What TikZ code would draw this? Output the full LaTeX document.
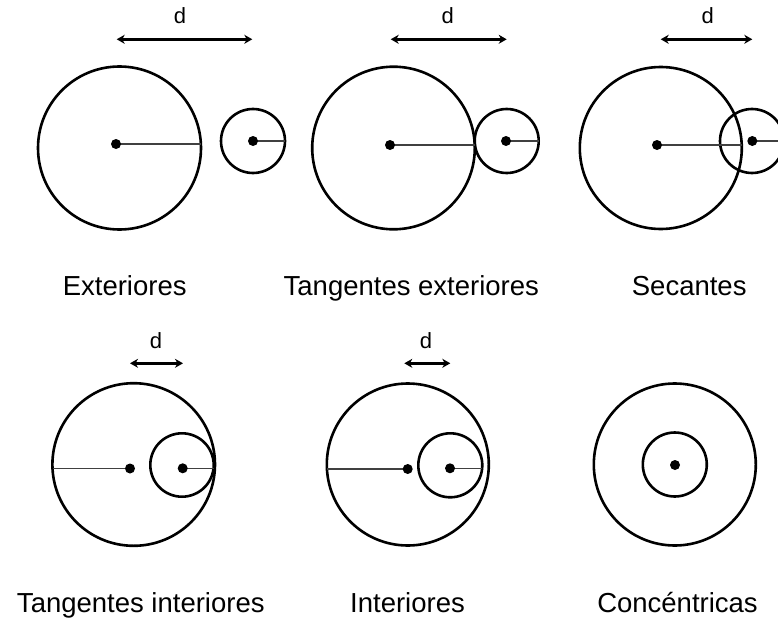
\documentclass[tikz,border=0pt]{standalone}
\usepackage{fontspec}
\setmainfont{Liberation Sans}
\usetikzlibrary{arrows.meta}
\begin{document}
\begin{tikzpicture}[x=1pt,y=-1pt,
  circ/.style={line width=2.6pt},
  rad/.style={line width=1.3pt,black!75},
  dotc/.style={fill=black},
  darrow/.style={line width=2.6pt,{Stealth[length=8pt,width=9pt,inset=2.5pt]}-{Stealth[length=8pt,width=9pt,inset=2.5pt]}},
  lbl/.style={anchor=base,inner sep=0pt,font=\fontsize{27.5}{30}\selectfont},
  dl/.style={anchor=base,inner sep=0pt,font=\fontsize{22}{26}\selectfont}]
\useasboundingbox (0,0) rectangle (778,623);
\clip (0,0) rectangle (778,623);
% ---------- Panel 1: Exteriores
\coordinate (c1b) at (119.5,148);
\coordinate (d1b) at (116,144);
\coordinate (e1b) at (201,144);
\coordinate (c1s) at (253,141);
\coordinate (d1s) at (253,141);
\coordinate (e1s) at (285,141);
\draw[circ] (c1b) circle[radius=81.5];
\draw[circ] (c1s) circle[radius=32];
\draw[rad] (d1b) -- (e1b);
\draw[rad] (d1s) -- (e1s);
\fill[dotc] (d1b) circle[radius=5];
\fill[dotc] (d1s) circle[radius=5];
\coordinate (a1l) at (116.7,39.3);
\coordinate (a1r) at (252.3,39.3);
\draw[darrow] (a1l) -- (a1r);
\node[dl] (dd1) at (180,24) {d};
\node[lbl] (t1) at (124.7,295) {Exteriores};
% ---------- Panel 2: Tangentes exteriores
\coordinate (c2b) at (393.5,148);
\coordinate (d2b) at (390,145);
\coordinate (e2b) at (474.5,145);
\coordinate (c2s) at (506.7,141);
\coordinate (d2s) at (506,141);
\coordinate (e2s) at (538.7,141);
\draw[circ] (c2b) circle[radius=81.3];
\draw[circ] (c2s) circle[radius=32];
\draw[rad] (d2b) -- (e2b);
\draw[rad] (d2s) -- (e2s);
\fill[dotc] (d2b) circle[radius=5];
\fill[dotc] (d2s) circle[radius=5];
\coordinate (a2l) at (390.7,39.3);
\coordinate (a2r) at (506.7,39.3);
\draw[darrow] (a2l) -- (a2r);
\node[dl] (dd2) at (447.7,24) {d};
\node[lbl] (t2) at (411.3,295) {Tangentes exteriores};
% ---------- Panel 3: Secantes
\coordinate (c3b) at (660.8,148);
\coordinate (d3b) at (657,145);
\coordinate (e3b) at (741.7,145);
\coordinate (c3s) at (752,141);
\coordinate (d3s) at (752.3,141);
\coordinate (e3s) at (784,141);
\draw[circ] (c3b) circle[radius=81];
\draw[circ] (c3s) circle[radius=32];
\draw[rad] (d3b) -- (e3b);
\draw[rad] (d3s) -- (e3s);
\fill[dotc] (d3b) circle[radius=5];
\fill[dotc] (d3s) circle[radius=5];
\coordinate (a3l) at (660.7,39.3);
\coordinate (a3r) at (752.3,39.3);
\draw[darrow] (a3l) -- (a3r);
\node[dl] (dd3) at (707.7,24) {d};
\node[lbl] (t3) at (689.2,295) {Secantes};
% ---------- Panel 4: Tangentes interiores
\coordinate (c4b) at (133.7,464.5);
\coordinate (d4b) at (130,468.5);
\coordinate (e4b) at (52.5,468.5);
\coordinate (c4s) at (182,465);
\coordinate (d4s) at (182.7,468.3);
\coordinate (e4s) at (213.5,468.3);
\draw[circ] (c4b) circle[radius=81.3];
\draw[circ] (c4s) circle[radius=31.7];
\draw[rad] (e4b) -- (d4b);
\draw[rad] (d4s) -- (e4s);
\fill[dotc] (d4b) circle[radius=5];
\fill[dotc] (d4s) circle[radius=5];
\coordinate (a4l) at (130,363.3);
\coordinate (a4r) at (183,363.3);
\draw[darrow] (a4l) -- (a4r);
\node[dl] (dd4) at (156,348.3) {d};
\node[lbl] (t4) at (140.8,612.7) {Tangentes interiores};
% ---------- Panel 5: Interiores
\coordinate (c5b) at (407.8,464.5);
\coordinate (d5b) at (407.7,469);
\coordinate (e5b) at (327,469);
\coordinate (c5s) at (450.3,465.3);
\coordinate (d5s) at (450,468.3);
\coordinate (e5s) at (482.2,468.3);
\draw[circ] (c5b) circle[radius=81];
\draw[circ] (c5s) circle[radius=32];
\draw[rad] (e5b) -- (d5b);
\draw[rad] (d5s) -- (e5s);
\fill[dotc] (d5b) circle[radius=5];
\fill[dotc] (d5s) circle[radius=5];
\coordinate (a5l) at (404.3,363.3);
\coordinate (a5r) at (450.3,363.3);
\draw[darrow] (a5l) -- (a5r);
\node[dl] (dd5) at (426,348.3) {d};
\node[lbl] (t5) at (407.5,612.7) {Interiores};
% ---------- Panel 6: Concéntricas
\coordinate (c6) at (674.8,464.5);
\coordinate (d6) at (675,465);
\draw[circ] (c6) circle[radius=81];
\draw[circ] (c6) circle[radius=32];
\fill[dotc] (d6) circle[radius=5];
\node[lbl] (t6) at (677.5,612.7) {Concéntricas};
\end{tikzpicture}
\end{document}
